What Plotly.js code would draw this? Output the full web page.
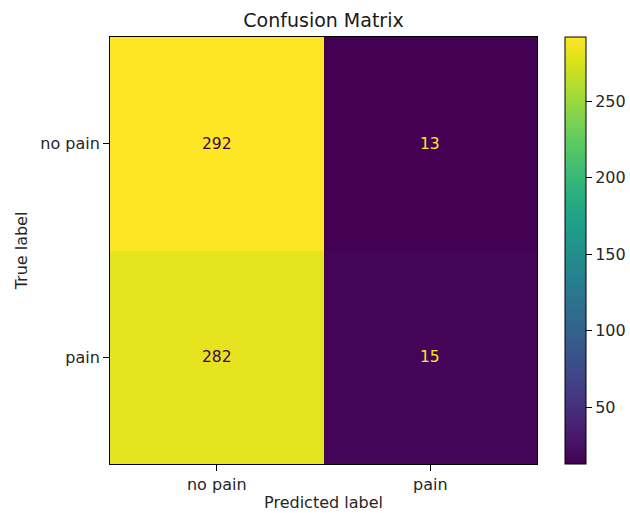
<!DOCTYPE html>
<html><head><meta charset="utf-8">
<script src="https://cdn.plot.ly/plotly-3.0.1.min.js"></script>
<style>html,body{margin:0;padding:0;background:#fff}</style>
</head><body><div id="c" style="width:630px;height:513px"></div>
<script>
const predictedLabels = ["no pain", "pain"];
const trueLabels = ["no pain", "pain"];
const counts = [[292, 13], [282, 15]];
const colorbarTicks = [50, 100, 150, 200, 250];

const zmin = Math.min(...counts.flat()), zmax = Math.max(...counts.flat());
const mid = (zmin + zmax) / 2;
const ann = [];
counts.forEach((row, i) => row.forEach((v, j) => {
  ann.push({x: predictedLabels[j], y: trueLabels[i], text: String(v), showarrow: false,
    font: {family: "DejaVu Sans", size: 15.5, color: v > mid ? "#440154" : "#fde725"}});
}));
const font = {family: "DejaVu Sans", size: 16, color: "#262626"};
Plotly.newPlot("c", [{
  type: "heatmap", x: predictedLabels, y: trueLabels, z: counts,
  colorscale: "Viridis", zmin: zmin, zmax: zmax, xgap: 0, ygap: 0,
  hoverinfo: "skip",
  colorbar: {x: 1.0656, xanchor: "left", xref: "paper", thickness: 21, thicknessmode: "pixels",
    len: 1, lenmode: "fraction", y: 0.5, yanchor: "middle", outlinewidth: 1, outlinecolor: "#000",
    tickvals: colorbarTicks, ticks: "outside", ticklen: 6, tickwidth: 1, tickcolor: "#000",
    tickfont: font, xpad: 0, ypad: 0}
}], {
  width: 630, height: 513, margin: {l: 110, r: 93, t: 37, b: 49, autoexpand: false},
  paper_bgcolor: "#fff", plot_bgcolor: "#fff", font: font,
  title: {text: "Confusion Matrix", font: {family: "DejaVu Sans", size: 19, color: "#1a1a1a"}, x: 0.5, xref: "paper", xanchor: "center", y: 0.961, yanchor: "middle", yref: "container"},
  xaxis: {type: "category", showline: true, linecolor: "#000", linewidth: 1, mirror: true,
    ticks: "outside", ticklen: 6, tickcolor: "#000", showgrid: false, zeroline: false,
    title: {text: "Predicted label", font: font, standoff: 3}, tickfont: font},
  yaxis: {type: "category", autorange: "reversed", showline: true, linecolor: "#000", linewidth: 1, mirror: true,
    ticks: "outside", ticklen: 6, tickcolor: "#000", showgrid: false, zeroline: false,
    title: {text: "True label", font: font, standoff: 8}, tickfont: font},
  annotations: ann
}, {displayModeBar: false, staticPlot: true});
</script></body></html>
